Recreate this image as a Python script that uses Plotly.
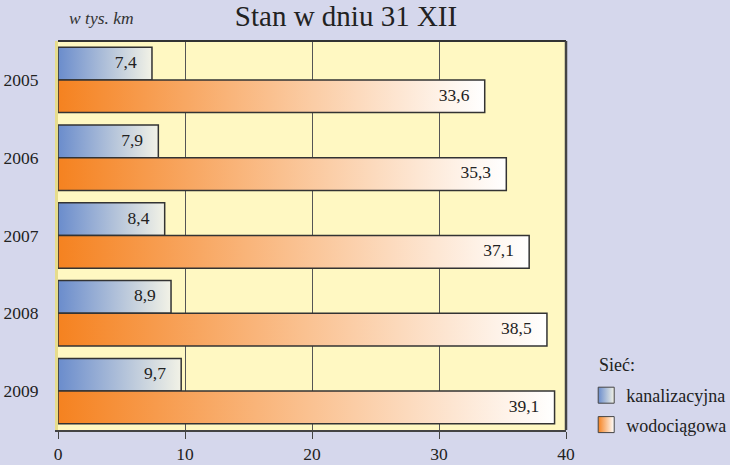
import plotly.graph_objects as go

years = ["2005", "2006", "2007", "2008", "2009"]
kanalizacyjna = [7.4, 7.9, 8.4, 8.9, 9.7]
wodociagowa = [33.6, 35.3, 37.1, 38.5, 39.1]
x_ticks = [0, 10, 20, 30, 40]
series_names = ["kanalizacyjna", "wodociągowa"]

H = 0.42  # bar thickness in category units
BLUE = [[0, "#6a8ccc"], [1, "#f2f2e6"]]
ORANGE = [[0, "#f58220"], [1, "#ffffff"]]

FONT = "Liberation Serif"
FS = 17.5
fig = go.Figure()

def bar(value, y0, y1, scale):
    fig.add_trace(go.Scatter(
        x=[0, value, value, 0, 0], y=[y0, y0, y1, y1, y0],
        mode="lines", fill="toself",
        fillgradient=dict(type="horizontal", colorscale=scale),
        line=dict(color="#333333", width=1.5),
        showlegend=False, hoverinfo="skip"))

for i, k in enumerate(kanalizacyjna):
    bar(k, i - H, i, BLUE)
for i, w in enumerate(wodociagowa):
    bar(w, i, i + H, ORANGE)

fmt = lambda v: f"{v:.1f}".replace(".", ",")
for vals, off in ((kanalizacyjna, -H / 2), (wodociagowa, H / 2)):
    fig.add_trace(go.Scatter(
        x=[v - 1.2 for v in vals], y=[i + off for i in range(len(years))],
        mode="text", text=[fmt(v) for v in vals], textposition="middle left",
        textfont=dict(family=FONT, size=FS, color="#222"), showlegend=False, hoverinfo="skip"))

# legend entries
for name, sc in zip(series_names, (BLUE, ORANGE)):
    fig.add_trace(go.Scatter(
        x=[None], y=[None], mode="markers", name=name, legendgroup=name,
        marker=dict(symbol="square", size=16, color=sc[0][1],
                    gradient=dict(type="horizontal", color=sc[1][1]),
                    line=dict(color="#444", width=1))))

fig.update_layout(
    width=730, height=465,
    margin=dict(l=58, r=164, t=41, b=35, autoexpand=False),
    paper_bgcolor="#d5d7ec",
    plot_bgcolor="#fff8c2",
    font=dict(family=FONT, size=FS, color="#222"),
    title=dict(text="Stan w dniu 31 XII", x=0.474, xanchor="center", y=0.967, yanchor="middle",
               font=dict(size=29, family=FONT, color="#222")),
    legend=dict(xref="container", yref="container", x=0.803, xanchor="left",
                y=1 - 377 / 465, yanchor="top", bgcolor="rgba(0,0,0,0)",
                font=dict(size=18, family=FONT), itemwidth=30, tracegroupgap=3),
    annotations=[
        dict(text="<i>w tys. km</i>", xref="paper", yref="paper", x=0.017, y=1 + 23 / 389,
             xanchor="left", yanchor="middle", showarrow=False,
             font=dict(size=17.5, family=FONT, color="#333")),
        dict(text="Sieć:", xref="paper", yref="paper", x=(597 - 58) / 508, y=(430 - 365) / 389,
             xanchor="left", yanchor="middle", showarrow=False,
             font=dict(size=18, family=FONT, color="#222")),
    ],
)
fig.update_xaxes(range=[0, 40], tickvals=x_ticks, ticktext=[str(t) for t in x_ticks],
                 showgrid=True, gridcolor="#555555", gridwidth=1, zeroline=False,
                 showline=True, linecolor="#444", linewidth=2, mirror=False,
                 ticks="outside", ticklen=7, tickcolor="#444", ticklabelstandoff=0,
                 automargin=False, tickfont=dict(size=FS, family=FONT))
fig.update_yaxes(range=[len(years) - 0.5, -0.5], tickvals=list(range(len(years))), ticktext=years,
                 showgrid=False, zeroline=False, showline=True, linecolor="#e6dc8c", linewidth=3,
                 ticks="", ticklabelstandoff=13, automargin=False,
                 tickfont=dict(size=FS, family=FONT))
fig.add_shape(type="line", xref="paper", yref="paper", x0=0, x1=1, y0=1, y1=1,
              line=dict(color="#333", width=2))
fig.add_shape(type="line", xref="paper", yref="paper", x0=1, x1=1, y0=0, y1=1,
              line=dict(color="#444", width=2.5))
fig.write_html("out.html", config={"displayModeBar": False},
               post_script="document.body.style.margin='0';document.body.style.overflow='hidden';")
